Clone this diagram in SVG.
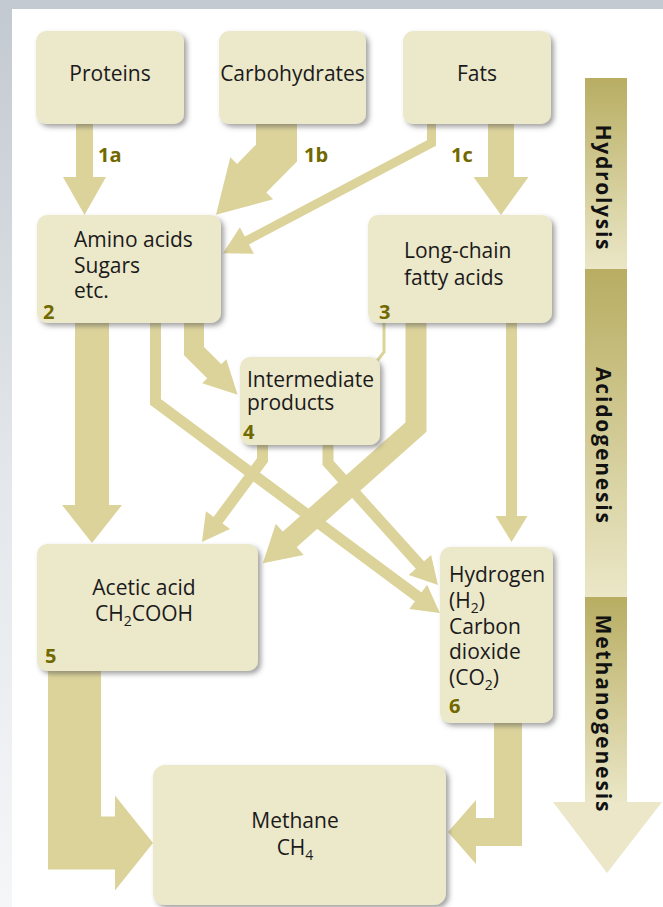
<svg xmlns="http://www.w3.org/2000/svg" width="663" height="907" viewBox="0 0 663 907">
<style>
.box{fill:#ece8ca;filter:url(#sh)}
.t{font-family:"Open Sans","Noto Sans",sans-serif;font-size:21px;fill:#1a1a1a}
.c{text-anchor:middle}
.n{font-family:"Open Sans","Noto Sans",sans-serif;font-size:20px;font-weight:bold;fill:#716800}
.v{font-family:"Open Sans","Noto Sans",sans-serif;font-size:21px;font-weight:bold;fill:#111;text-anchor:middle}
.a{fill:none;stroke:#dcd39b;stroke-linejoin:miter;stroke-miterlimit:10}
.h{fill:#dcd39b}
marker{overflow:visible}
</style>
<defs>
<linearGradient id="bg" x1="0" y1="0" x2="0" y2="1"><stop offset="0" stop-color="#c3c9d0"/><stop offset="0.5" stop-color="#e2e6ea"/><stop offset="1" stop-color="#f5f6f8"/></linearGradient>
<linearGradient id="bar" x1="0" y1="0" x2="0" y2="1"><stop offset="0" stop-color="#b8ad62"/><stop offset="1" stop-color="#ebe7c7"/></linearGradient>
<filter id="sh" x="-10%" y="-10%" width="130%" height="130%"><feDropShadow dx="3" dy="3" stdDeviation="2.5" flood-color="#444" flood-opacity="0.5"/></filter>
<marker id="m1a" markerUnits="userSpaceOnUse" orient="auto" refX="1" refY="0" markerWidth="1" markerHeight="1"><path class="h" d="M0,-21.5L38,0L0,21.5Z"/></marker>
<marker id="mF" markerUnits="userSpaceOnUse" orient="auto" refX="1" refY="0" markerWidth="1" markerHeight="1"><path class="h" d="M0,-27.5L38,0L0,27.5Z"/></marker>
<marker id="m1b" markerUnits="userSpaceOnUse" orient="auto" refX="1" refY="0" markerWidth="1" markerHeight="1"><path class="h" d="M0,-30L51,0L0,30Z"/></marker>
<marker id="mT" markerUnits="userSpaceOnUse" orient="auto" refX="1" refY="0" markerWidth="1" markerHeight="1"><path class="h" d="M0,-15L27,0L0,15Z"/></marker>
<marker id="m25" markerUnits="userSpaceOnUse" orient="auto" refX="1" refY="0" markerWidth="1" markerHeight="1"><path class="h" d="M0,-30L38,0L0,30Z"/></marker>
<marker id="m24" markerUnits="userSpaceOnUse" orient="auto" refX="1" refY="0" markerWidth="1" markerHeight="1"><path class="h" d="M0,-17L33,0L0,17Z"/></marker>
<marker id="m35" markerUnits="userSpaceOnUse" orient="auto" refX="1" refY="0" markerWidth="1" markerHeight="1"><path class="h" d="M0,-21L36,0L0,21Z"/></marker>
<marker id="m36" markerUnits="userSpaceOnUse" orient="auto" refX="1" refY="0" markerWidth="1" markerHeight="1"><path class="h" d="M0,-16L26,0L0,16Z"/></marker>
<marker id="mM1" markerUnits="userSpaceOnUse" orient="auto" refX="1" refY="0" markerWidth="1" markerHeight="1"><path class="h" d="M0,-47.5L38,0L0,47.5Z"/></marker>
<marker id="mM2" markerUnits="userSpaceOnUse" orient="auto" refX="1" refY="0" markerWidth="1" markerHeight="1"><path class="h" d="M0,-32L28,0L0,32Z"/></marker>
</defs>
<rect width="663" height="907" fill="url(#bg)"/>
<rect x="12" y="9" width="651" height="898" fill="#ffffff"/>

<g id="stage-bar">
<rect x="585" y="78" width="42" height="191" fill="url(#bar)"/>
<rect x="585" y="269" width="42" height="328" fill="url(#bar)"/>
<rect x="585" y="597" width="42" height="206" fill="url(#bar)"/>
<polygon points="553,802 662,802 607,873" fill="#ebe7c8"/>
<text class="v" transform="translate(596,187) rotate(90)" textLength="125" lengthAdjust="spacing">Hydrolysis</text>
<text class="v" transform="translate(596,445) rotate(90)" textLength="156" lengthAdjust="spacing">Acidogenesis</text>
<text class="v" transform="translate(596,713) rotate(90)" textLength="197" lengthAdjust="spacing">Methanogenesis</text>
</g>

<g id="connectors">
<path class="a" stroke-width="17" d="M84.5,124V178" marker-end="url(#m1a)"/>
<path class="a" stroke-width="41" d="M276.5,124V153L251,179" marker-end="url(#m1b)"/>
<path class="a" stroke-width="9" d="M431.5,124V143L246,241" marker-end="url(#mT)"/>
<path class="a" stroke-width="26" d="M501,124V178" marker-end="url(#mF)"/>
<path class="a" stroke-width="34" d="M92,323V506" marker-end="url(#m25)"/>
<path class="a" stroke-width="20" d="M194,323V351L215,372" marker-end="url(#m24)"/>
<path class="a" stroke-width="11" d="M155.5,323V402L419,597.5" marker-end="url(#mT)"/>
<path class="a" stroke-width="3" d="M384,323V352L377,361"/>
<path class="a" stroke-width="21" d="M416,323V427L289,540" marker-end="url(#m35)"/>
<path class="a" stroke-width="11" d="M511.5,323V517" marker-end="url(#m36)"/>
<path class="a" stroke-width="11" d="M262.5,445V460L217.4,521" marker-end="url(#mT)"/>
<path class="a" stroke-width="11" d="M328,445V463L420.6,565.7" marker-end="url(#mT)"/>
<path class="a" stroke-width="53" d="M74.5,671V843H116" marker-end="url(#mM1)"/>
<path class="a" stroke-width="28" d="M508,723V832H475" marker-end="url(#mM2)"/>
<text class="n" x="98" y="162">1a</text>
<text class="n" x="304" y="162">1b</text>
<text class="n" x="451" y="162">1c</text>
</g>

<g id="proteins"><rect class="box" x="36" y="31" width="148" height="93" rx="10"/><text class="t c" x="110" y="81">Proteins</text></g>
<g id="carbohydrates"><rect class="box" x="219" y="31" width="147" height="93" rx="10"/><text class="t c" x="292.5" y="81">Carbohydrates</text></g>
<g id="fats"><rect class="box" x="403" y="31" width="148" height="93" rx="10"/><text class="t c" x="477" y="81">Fats</text></g>

<g id="node2"><rect class="box" x="37" y="215" width="184" height="108" rx="10"/>
<text class="t" x="74" y="247">Amino acids</text><text class="t" x="74" y="273">Sugars</text><text class="t" x="74" y="298">etc.</text>
<text class="n" x="43" y="319">2</text></g>

<g id="node3"><rect class="box" x="368" y="215" width="184" height="108" rx="10"/>
<text class="t" x="404" y="258">Long-chain</text><text class="t" x="404" y="285">fatty acids</text>
<text class="n" x="379" y="319">3</text></g>

<g id="node4"><rect class="box" x="240" y="357" width="140" height="88" rx="10"/>
<text class="t" x="247" y="387">Intermediate</text><text class="t" x="247" y="410">products</text>
<text class="n" x="243" y="439">4</text></g>

<g id="node5"><rect class="box" x="37" y="544" width="221" height="127" rx="10"/>
<text class="t c" x="144" y="595">Acetic acid</text>
<text class="t c" x="144" y="621">CH<tspan font-size="14" dy="5">2</tspan><tspan dy="-5">COOH</tspan></text>
<text class="n" x="45" y="663">5</text></g>

<g id="node6"><rect class="box" x="440" y="547" width="113" height="176" rx="10"/>
<text class="t" x="449" y="582">Hydrogen</text>
<text class="t" x="449" y="608">(H<tspan font-size="14" dy="5">2</tspan><tspan dy="-5">)</tspan></text>
<text class="t" x="449" y="634">Carbon</text>
<text class="t" x="449" y="659">dioxide</text>
<text class="t" x="449" y="685">(CO<tspan font-size="14" dy="5">2</tspan><tspan dy="-5">)</tspan></text>
<text class="n" x="449" y="713">6</text></g>

<g id="methane"><rect class="box" x="153" y="765" width="293" height="140" rx="12"/>
<text class="t c" x="295" y="828">Methane</text>
<text class="t c" x="295" y="855">CH<tspan font-size="14" dy="5">4</tspan></text></g>
</svg>
